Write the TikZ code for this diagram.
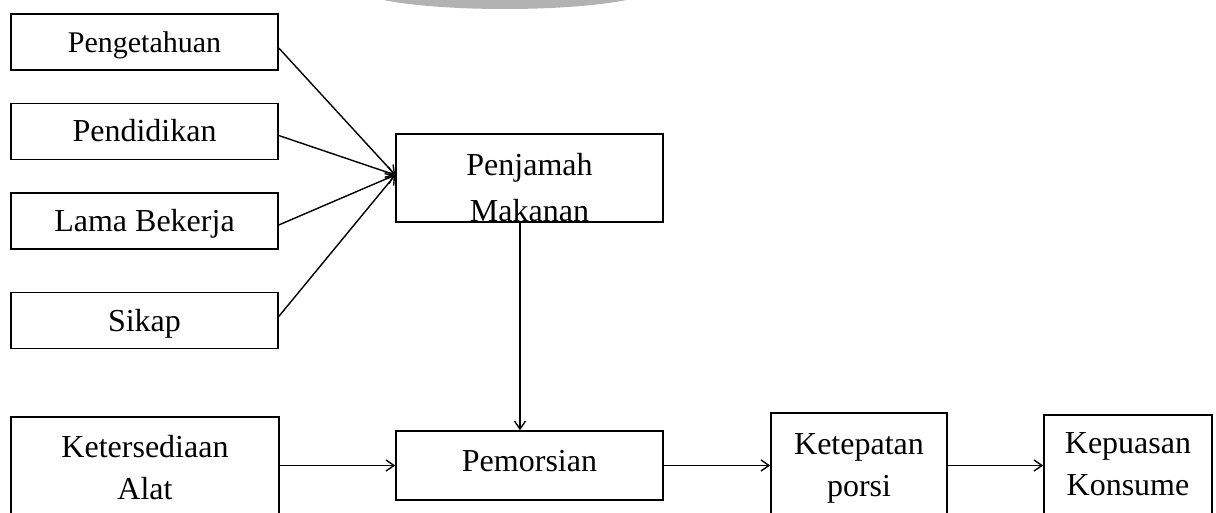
\documentclass[tikz,border=0pt]{standalone}
\usepackage{fontspec}
\setmainfont{Liberation Serif}
\usepackage{tikz}
\usetikzlibrary{arrows.meta,positioning,calc}
\tikzset{
  box/.style={draw=black, line width=1.5pt, align=center, inner sep=0pt, font=\fontsize{32}{42}\selectfont},
  onebox/.style={box, text height=21pt, text depth=0pt},
  arrow/.style={-{Straight Barb[length=8pt,width=11pt]}, line width=1.4pt},
  shade/.style={fill=black!30, draw=none}
}
\begin{document}
\begin{tikzpicture}[x=1pt, y=-1pt]
\useasboundingbox (0,0) rectangle (1216,513);
\clip (0,0) rectangle (1216,513);
\fill[shade] (505,-12) ellipse [x radius=148pt, y radius=21pt];
% left column
\node[onebox, minimum width=267pt, minimum height=56pt, font=\fontsize{30}{42}\selectfont] (peng) at (144.5,42) {Pengetahuan};
\node[onebox, minimum width=267pt, minimum height=56pt, below=32pt of peng] (pend) {Pendidikan};
\node[onebox, minimum width=267pt, minimum height=56pt, below=32pt of pend] (lama) {Lama Bekerja};
\node[onebox, minimum width=267pt, minimum height=56pt, below=42pt of lama] (sikap) {Sikap};
% middle
\node[box, minimum width=267pt, minimum height=88pt,
  path picture={\node[align=center, inner sep=0pt, font=\fontsize{32}{46}\selectfont]
    at ([yshift=-9.3pt]path picture bounding box.center) {Penjamah\\Makanan};}] (pj) at (529.5,178) {};
\node[onebox, minimum width=267pt, minimum height=69pt, text depth=9pt] (pm) at (529.5,465.5) {Pemorsian};
% bottom row
\node[box, minimum width=268pt, minimum height=100.6pt] (ket) at (145,467.3) {Ketersediaan\\Alat};
\node[box, minimum width=176pt, minimum height=110pt] (kt) at (859,468) {Ketepatan\\porsi};
\node[box, minimum width=168pt, minimum height=99pt] (kp) at (1128,464.5) {Kepuasan\\Konsume};
\coordinate (pjin) at ([yshift=3pt]pj.west);
\draw[arrow] ([yshift=-6pt]peng.east) -- (pjin);
\draw[arrow] ([yshift=-4pt]pend.east) -- (pjin);
\draw[arrow] ([yshift=-4pt]lama.east) -- (pjin);
\draw[arrow] ([yshift=4pt]sikap.east) -- (pjin);
\draw[arrow] ([xshift=-9.5pt]pj.south) -- ([xshift=-9.5pt]pm.north);
\draw[arrow] (ket.east |- pm.west) -- (pm.west);
\draw[arrow] (pm.east) -- (pm.east -| kt.west);
\draw[arrow] (kt.east |- pm.east) -- (pm.east -| kp.west);
\end{tikzpicture}
\end{document}
